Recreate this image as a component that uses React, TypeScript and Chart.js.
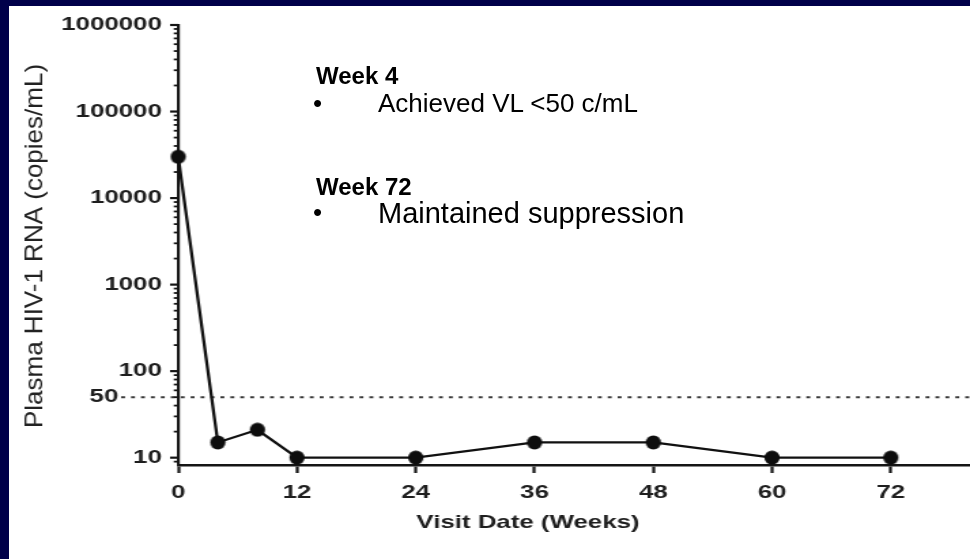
import React, { useEffect, useRef } from "react";
import { Chart, registerables } from "chart.js";

Chart.register(...registerables);

// Viral load over time
const weeks = [0, 4, 8, 12, 24, 36, 48, 60, 72];
const rnaCopies = [30000, 15, 21, 10, 10, 15, 15, 10, 10];

// Axis ticks
const xTickValues = [0, 12, 24, 36, 48, 60, 72];
const yMajorTicks = [10, 100, 1000, 10000, 100000, 1000000];
const yMinorTicks = [
  9,
  20, 30, 40, 50, 60, 70, 80, 90,
  200, 300, 400, 500, 600, 700, 800, 900,
  2000, 3000, 4000, 5000, 6000, 7000, 8000, 9000,
  20000, 30000, 40000, 50000, 60000, 70000, 80000, 90000,
  200000, 300000, 400000, 500000, 600000, 700000, 800000, 900000,
];

// Suppression threshold
const thresholdValue = 50;
const thresholdLabel = "50";

const xTitle = "Visit Date (Weeks)";
const yTitle = "Plasma HIV-1 RNA (copies/mL)";

const noteHeadings = ["Week 4", "Week 72"];
const noteBullets = ["Achieved VL <50 c/mL", "Maintained suppression"];

// The plot canvas is drawn narrow and widened with a horizontal stretch.
const PAGE_W = 970;
const PAGE_H = 559;
const CANVAS_W = 713;
const STRETCH = PAGE_W / CANVAS_W;
const FONT = '"Liberation Sans", Arial, Helvetica, sans-serif';

const extrasPlugin = {
  id: "viralLoadExtras",
  beforeDatasetsDraw(chart: any) {
    const { ctx, chartArea, scales } = chart;
    const y = scales.y;
    const yPix = y.getPixelForValue(thresholdValue);
    const startX = 89;
    ctx.save();
    ctx.strokeStyle = "#3a3a3a";
    ctx.lineWidth = 2;
    ctx.setLineDash([2.9, 4.4]);
    ctx.beginPath();
    ctx.moveTo(startX, yPix);
    ctx.lineTo(chart.width, yPix);
    ctx.stroke();
    ctx.setLineDash([]);
    ctx.fillStyle = "#1e1e1e";
    ctx.font = `bold 19px ${FONT}`;
    ctx.textAlign = "right";
    ctx.textBaseline = "middle";
    ctx.fillText(thresholdLabel, startX - 2, yPix);

    // y-axis tick marks (major longer than minor)
    ctx.strokeStyle = "#151515";
    ctx.lineWidth = 2.2;
    const left = chartArea.left;
    yMajorTicks.forEach((v) => {
      const p = y.getPixelForValue(v);
      ctx.beginPath();
      ctx.moveTo(left - 6, p);
      ctx.lineTo(left, p);
      ctx.stroke();
    });
    ctx.lineWidth = 1.8;
    yMinorTicks.forEach((v) => {
      const p = y.getPixelForValue(v);
      ctx.beginPath();
      ctx.moveTo(left - 3.3, p);
      ctx.lineTo(left, p);
      ctx.stroke();
    });
    ctx.restore();
  },
  afterDraw(chart: any) {
    const { ctx } = chart;
    ctx.save();
    ctx.fillStyle = "#1e1e1e";
    ctx.font = `bold 19px ${FONT}`;
    ctx.textAlign = "center";
    ctx.textBaseline = "middle";
    ctx.fillText(xTitle, 528 / STRETCH, 523);

    // y title is drawn at its natural proportions
    ctx.scale(1 / STRETCH, 1);
    ctx.translate(35, 246);
    ctx.rotate(-Math.PI / 2);
    ctx.font = `26px ${FONT}`;
    ctx.fillStyle = "#222";
    ctx.fillText(yTitle, 0, 0);
    ctx.restore();
  },
};

function makeMarker(): HTMLCanvasElement {
  const c = document.createElement("canvas");
  c.width = 13;
  c.height = 15;
  const g = c.getContext("2d")!;
  g.fillStyle = "#0d0d0d";
  g.beginPath();
  g.ellipse(6.5, 7.5, 5.6, 7.0, 0, 0, Math.PI * 2);
  g.fill();
  return c;
}

function ViralLoadChart() {
  const ref = useRef<HTMLCanvasElement | null>(null);

  useEffect(() => {
    if (!ref.current) return;
    const marker = makeMarker();
    const chart = new Chart(ref.current, {
      type: "scatter",
      data: {
        datasets: [
          {
            data: weeks.map((w, i) => ({ x: w, y: rnaCopies[i] })),
            showLine: true,
            borderColor: "#111",
            borderWidth: 2.3,
            pointStyle: marker as any,
            pointRadius: 6,
            backgroundColor: "#111",
            clip: false as any,
          },
        ],
      },
      options: {
        responsive: false,
        animation: false,
        events: [],
        layout: {
          autoPadding: false,
          padding: { top: 25, left: 0, right: 0, bottom: 0 },
        },
        plugins: {
          legend: { display: false },
          tooltip: { enabled: false },
        },
        scales: {
          x: {
            type: "linear",
            min: 0,
            max: 80,
            afterBuildTicks: (scale: any) => {
              scale.ticks = xTickValues.map((v) => ({ value: v }));
            },
            afterFit: (scale: any) => {
              scale.height = 94;
              scale.paddingRight = 0;
              scale.paddingLeft = 0;
            },
            grid: {
              display: true,
              drawOnChartArea: false,
              drawTicks: true,
              tickLength: 8,
              tickWidth: 2.2,
              tickColor: "#151515",
            },
            border: { display: true, color: "#151515", width: 2.6 },
            ticks: {
              padding: 8,
              color: "#1e1e1e",
              autoSkip: false,
              maxRotation: 0,
              font: { family: FONT, size: 19, weight: "bold" },
            },
          },
          y: {
            type: "logarithmic",
            min: 8.23,
            max: 1000000,
            afterBuildTicks: (scale: any) => {
              scale.ticks = yMajorTicks.map((v) => ({ value: v, major: true }));
            },
            afterFit: (scale: any) => {
              scale.width = 131;
            },
            grid: { display: false },
            border: { display: true, color: "#151515", width: 2.2 },
            ticks: {
              padding: 4,
              color: "#1e1e1e",
              autoSkip: false,
              font: { family: FONT, size: 19, weight: "bold" },
              callback: (v: any) => String(v),
            },
          },
        },
      },
      plugins: [extrasPlugin],
    });
    return () => chart.destroy();
  }, []);

  return (
    <canvas
      ref={ref}
      width={CANVAS_W}
      height={PAGE_H}
      style={{
        position: "absolute",
        left: 0,
        top: 0,
        width: CANVAS_W,
        height: PAGE_H,
        transform: `scaleX(${STRETCH})`,
        transformOrigin: "0 0",
      }}
    />
  );
}

const headingStyle: React.CSSProperties = {
  position: "absolute",
  left: 316,
  fontFamily: FONT,
  fontWeight: "bold",
  fontSize: 24,
  lineHeight: "24px",
  color: "#000",
  whiteSpace: "nowrap",
};

const bulletStyle: React.CSSProperties = {
  position: "absolute",
  fontFamily: FONT,
  lineHeight: 1,
  color: "#000",
  whiteSpace: "nowrap",
};

export default function App() {
  const headingTops = [64, 175];
  const bulletTops = [90, 199];
  const bulletSizes = [26, 29];
  return (
    <div
      style={{
        position: "absolute",
        left: 0,
        top: 0,
        width: PAGE_W,
        height: PAGE_H,
        background: "#00004a",
        overflow: "hidden",
      }}
    >
      <div
        style={{
          position: "absolute",
          left: 9,
          top: 6,
          width: PAGE_W - 9,
          height: PAGE_H - 6,
          background: "#fff",
        }}
      />
      <ViralLoadChart />
      {noteHeadings.map((h, i) => (
        <div key={h} style={{ ...headingStyle, top: headingTops[i] }}>
          {h}
        </div>
      ))}
      {noteBullets.map((b, i) => (
        <React.Fragment key={b}>
          <div style={{ ...bulletStyle, fontSize: 26, left: 313, top: bulletTops[i] }}>•</div>
          <div style={{ ...bulletStyle, fontSize: bulletSizes[i], left: 378, top: bulletTops[i] }}>{b}</div>
        </React.Fragment>
      ))}
    </div>
  );
}
